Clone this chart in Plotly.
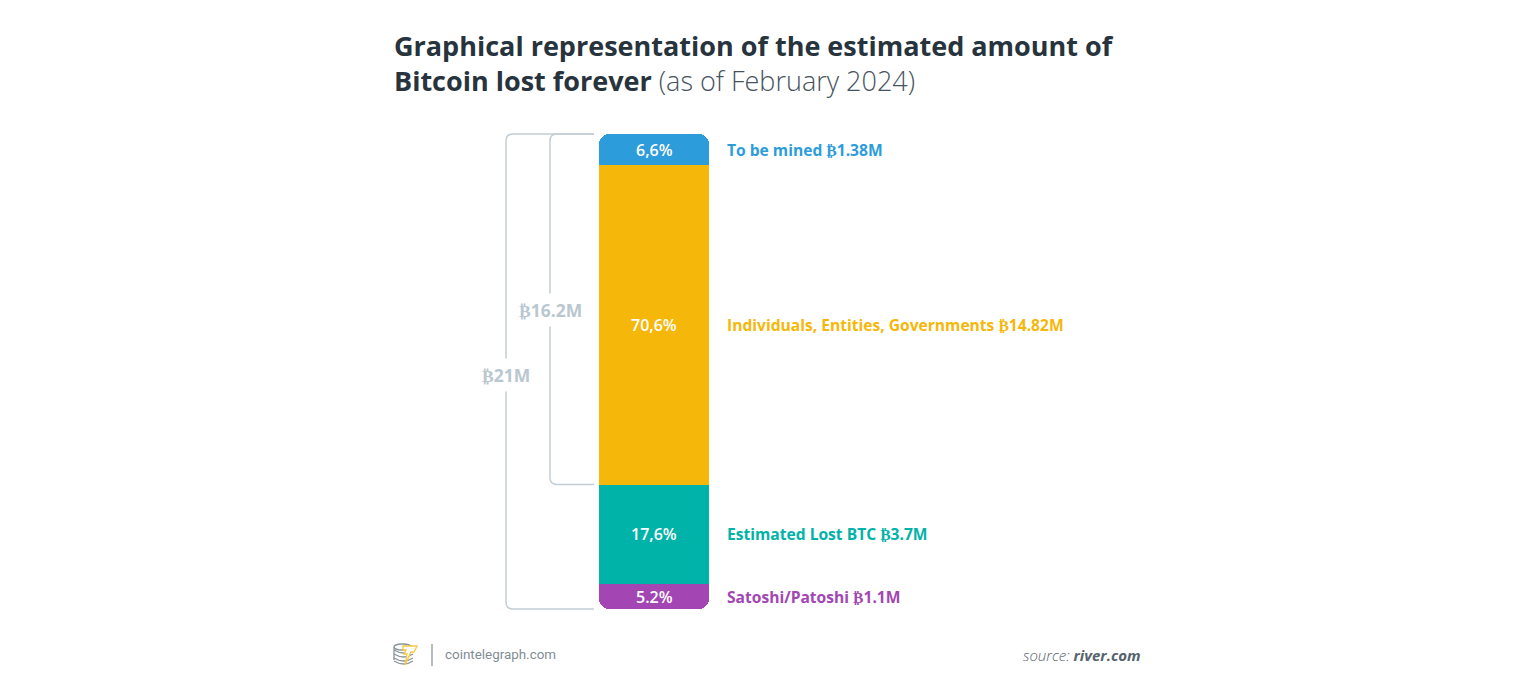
import plotly.graph_objects as go

# Data
segments = ["To be mined", "Individuals, Entities, Governments", "Estimated Lost BTC", "Satoshi/Patoshi"]
drawn_heights = [1.37, 14.13, 4.38, 1.12]          # drawn segment heights in million BTC (top to bottom)
share_labels = ["6,6%", "70,6%", "17,6%", "5.2%"]
amount_labels = ["₿1.38M", "₿14.82M", "₿3.7M", "₿1.1M"]
seg_colors = ["#2D9CDB", "#F5B70A", "#00B3A9", "#A346B3"]
total_label = "₿21M"
held_label = "₿16.2M"

W, H = 1536, 698
L, R, T, B = 599, 709, 134, 609
total = sum(drawn_heights)
upper = drawn_heights[0] + drawn_heights[1]
lower = drawn_heights[2] + drawn_heights[3]


def px(x):
    return (x - L) / (R - L)


def py(y):
    return (B - y) / (B - T)


fig = go.Figure()
# The stack grows both ways from the yellow/teal boundary, so that both outer ends get rounded corners.
for i, sign in ((1, 1), (0, 1), (2, -1), (3, -1)):
    fig.add_trace(go.Bar(
        x=["supply"], y=[sign * drawn_heights[i]], name=segments[i],
        marker=dict(color=seg_colors[i], line=dict(width=0)),
        textposition="none", hoverinfo="skip", showlegend=False,
    ))

centres = [upper - drawn_heights[0] / 2, drawn_heights[1] / 2, -drawn_heights[2] / 2,
           -drawn_heights[2] - drawn_heights[3] / 2]
nudges = [-1, 0, 0, -1]
annotations = []
for c, name, amt, share, col, n in zip(centres, segments, amount_labels, share_labels, seg_colors, nudges):
    annotations.append(dict(
        xref="paper", yref="y", x=px(724.5), y=c, xanchor="left", yanchor="middle", yshift=n,
        text=f"{name} {amt}", showarrow=False,
        font=dict(family="Open Sans", size=15.6, color=col, weight=700),
    ))
    annotations.append(dict(
        xref="paper", yref="y", x=0.5, y=c, xanchor="center", yanchor="middle", yshift=n,
        text=share, showarrow=False,
        font=dict(family="Open Sans", size=16, color="white", weight=600),
    ))


def bracket(x_left, y_top, y_bottom, r=7, x_right=594):
    """Open bracket path in paper coordinates; y values are data heights above the bar's foot."""
    rx = r / (R - L)
    ry = r / (B - T)
    xl, xr = px(x_left), px(x_right)
    yt, yb = y_top / total, y_bottom / total
    return (f"M {xr} {yt} L {xl + rx} {yt} Q {xl} {yt} {xl} {yt - ry} "
            f"L {xl} {yb + ry} Q {xl} {yb} {xl + rx} {yb} L {xr} {yb}")


line = dict(color="#C3CED6", width=1.5)
shapes = [
    dict(type="path", xref="paper", yref="paper", path=bracket(506, total, 0), line=line, layer="below"),
    dict(type="path", xref="paper", yref="paper", path=bracket(550, total, lower), line=line, layer="below"),
]

label_font = dict(family="Open Sans", size=17.5, color="#B9C7D0", weight=700)
annotations += [
    dict(xref="paper", yref="paper", x=px(506), y=py(375), text=total_label, showarrow=False,
         font=label_font, bgcolor="white", borderpad=4, xanchor="center", yanchor="middle"),
    dict(xref="paper", yref="paper", x=px(550), y=py(310), text=held_label, showarrow=False,
         font=label_font, bgcolor="white", borderpad=4, xanchor="center", yanchor="middle"),
    dict(xref="paper", yref="paper", x=px(442.5), y=py(654), text="cointelegraph.com", showarrow=False,
         xanchor="left", yanchor="middle", font=dict(family="Roboto", size=13.4, color="#7F8C95")),
    dict(xref="paper", yref="paper", x=px(1143), y=py(655), showarrow=False, xanchor="right", yanchor="middle",
         text="<i><span style=\"font-weight:300\">source:</span> <b>river.com</b></i>",
         font=dict(family="Open Sans", size=15, color="#55636D")),
]

# Logo: divider, coin stack and bolt
logo_line = dict(color="#8A959C", width=1.3)
shapes.append(dict(type="line", xref="paper", yref="paper", x0=px(432), x1=px(432), y0=py(644), y1=py(666),
                   line=dict(color="#9AA4AB", width=1.5)))
for cy in (650, 654, 658, 661):
    shapes.append(dict(type="path", xref="paper", yref="paper", line=logo_line,
                       path=f"M {px(394)} {py(cy)} Q {px(404)} {py(cy + 6)} {px(413)} {py(cy)}"))
shapes.append(dict(type="circle", xref="paper", yref="paper", x0=px(394), x1=px(411), y0=py(650), y1=py(644),
                   line=logo_line))
shapes.append(dict(type="line", xref="paper", yref="paper", x0=px(394), x1=px(394), y0=py(647), y1=py(660),
                   line=logo_line))
shapes.append(dict(type="path", xref="paper", yref="paper", fillcolor="white", layer="above",
                   line=dict(color="#F5C842", width=1.3),
                   path=" ".join([f"M {px(403)} {py(646)}", f"L {px(417)} {py(646)}", f"L {px(414)} {py(652)}",
                                  f"L {px(411)} {py(652)}", f"L {px(405)} {py(665)}", f"L {px(407)} {py(654)}",
                                  f"L {px(404)} {py(654)}", f"L {px(406)} {py(650)}", f"L {px(403)} {py(650)} Z"])))

fig.update_layout(
    width=W, height=H, autosize=False,
    margin=dict(l=L, r=W - R, t=T, b=H - B, pad=0),
    paper_bgcolor="white", plot_bgcolor="white",
    barmode="relative", bargap=0, barcornerradius=10,
    xaxis=dict(visible=False, type="category", fixedrange=True),
    yaxis=dict(visible=False, range=[-lower, upper], fixedrange=True),
    title=dict(
        text="<b>Graphical representation of the estimated amount of<br>Bitcoin lost forever</b> "
             "<span style=\"font-weight:300;color:#46535D\">(as of February 2024)</span>",
        x=394 / W, xref="container", xanchor="left", y=1 - 56 / H, yref="container", yanchor="top",
        font=dict(family="Open Sans", size=27, color="#27333D"),
    ),
    shapes=shapes, annotations=annotations,
)

fig.write_html("out.html", config={"displayModeBar": False},
               post_script="document.body.style.margin='0';")
